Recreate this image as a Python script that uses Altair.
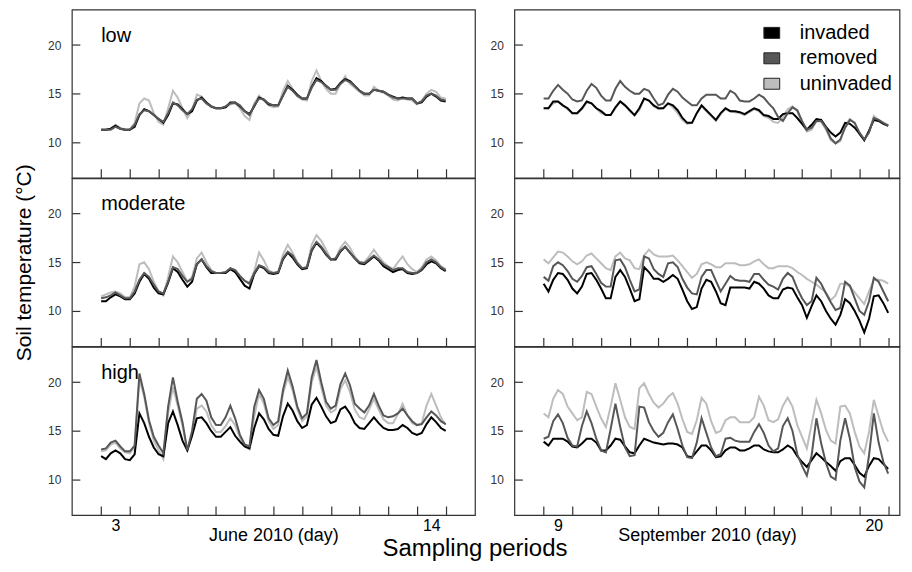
import altair as alt
import pandas as pd

# ---------------- data (4-hourly readings, 73 per series) ----------------
treatments = ["invaded", "removed", "uninvaded"]
colors = ["#000000", "#575757", "#bdbdbd"]
levels = ["low", "moderate", "high"]
periods = ["June", "September"]
period_start = [3, 9]
period_titles = ["June 2010 (day)", "September 2010 (day)"]
period_labels = [[3, 14], [9, 20]]
y_ticks = [10, 15, 20]

jun_low_invaded = [11.3, 11.3, 11.4, 11.7, 11.4, 11.3, 11.3, 11.6, 12.8, 13.4, 13.2, 12.8,
                   12.4, 12.0, 12.8, 14.0, 13.9, 13.4, 12.9, 13.2, 14.3, 14.6, 14.1, 13.7,
                   13.5, 13.5, 13.6, 14.1, 14.1, 13.7, 13.2, 12.9, 13.7, 14.6, 14.4, 13.9,
                   13.8, 13.8, 14.8, 15.8, 15.4, 14.9, 14.5, 14.5, 15.7, 16.6, 16.3, 15.8,
                   15.4, 15.5, 16.1, 16.5, 16.3, 15.8, 15.3, 15.0, 15.0, 15.4, 15.3, 15.2,
                   14.9, 14.7, 14.5, 14.6, 14.5, 14.5, 14.0, 14.1, 14.7, 15.0, 14.7, 14.3, 14.2]
jun_low_removed = [11.3, 11.3, 11.3, 11.6, 11.4, 11.3, 11.3, 11.8, 12.9, 13.3, 13.2, 12.8,
                   12.4, 12.1, 13.0, 14.1, 13.8, 13.3, 12.9, 13.4, 14.4, 14.5, 14.0, 13.7,
                   13.5, 13.5, 13.7, 14.0, 14.1, 13.8, 13.2, 12.8, 13.8, 14.5, 14.4, 14.0,
                   13.8, 13.8, 14.8, 15.7, 15.3, 14.8, 14.5, 14.5, 15.6, 16.4, 16.2, 15.8,
                   15.4, 15.4, 16.0, 16.4, 16.2, 15.8, 15.3, 15.0, 15.0, 15.4, 15.3, 15.2,
                   14.9, 14.6, 14.5, 14.5, 14.5, 14.5, 14.0, 14.2, 14.8, 15.0, 14.8, 14.4, 14.3]
jun_low_uninvaded = [11.3, 11.3, 11.4, 11.8, 11.5, 11.3, 11.3, 12.0, 14.0, 14.5, 14.3, 13.0,
                     12.1, 11.8, 13.5, 15.3, 14.6, 13.5, 12.5, 13.3, 14.9, 14.7, 14.0, 13.6,
                     13.5, 13.5, 13.6, 13.9, 14.0, 13.5, 12.7, 12.3, 14.0, 14.8, 14.3, 13.8,
                     13.6, 13.7, 15.3, 16.3, 15.5, 14.7, 14.4, 14.3, 16.3, 17.4, 16.3, 15.5,
                     15.0, 15.0, 16.0, 16.8, 16.0, 15.6, 15.2, 14.8, 14.8, 15.7, 15.3, 15.1,
                     14.8, 14.4, 14.3, 14.6, 14.4, 14.3, 13.9, 14.3, 15.0, 15.4, 15.2, 14.6, 14.5]

sep_low_invaded = [13.5, 13.5, 14.2, 14.2, 13.8, 13.5, 13.0, 13.0, 13.5, 14.2, 14.0, 13.5,
                   13.2, 12.8, 12.8, 13.6, 14.2, 13.8, 13.3, 12.8, 13.5, 14.5, 14.3, 13.8,
                   13.5, 13.5, 14.0, 13.8, 13.3, 12.5, 12.0, 12.0, 13.0, 13.8, 13.3, 12.8,
                   12.3, 13.0, 13.5, 13.2, 13.2, 13.1, 12.9, 13.2, 13.5, 13.3, 12.8, 12.7,
                   12.4, 12.4, 12.9, 13.0, 13.0, 12.5, 11.9, 11.3, 11.8, 12.4, 12.3, 11.6,
                   11.0, 10.6, 11.0, 12.0, 11.9, 11.5, 10.9, 10.2, 11.2, 12.3, 12.2, 11.9, 11.7]
sep_low_removed = [14.5, 14.5, 15.3, 15.9, 15.4, 15.0, 14.4, 14.2, 14.3, 15.3, 16.0, 15.6,
                   14.8, 14.3, 14.3, 15.5, 16.3, 15.7, 15.3, 15.0, 15.0, 15.5, 15.3, 14.5,
                   13.8, 14.0, 14.9, 15.5, 15.2, 14.6, 14.2, 13.8, 13.8, 14.5, 14.9, 14.9,
                   14.9, 14.5, 14.5, 15.3, 15.0, 14.3, 14.2, 14.2, 14.5, 14.9, 14.6, 14.0,
                   13.5, 12.6, 12.2, 13.0, 13.6, 13.3, 12.2, 11.3, 11.5, 12.2, 12.2, 11.5,
                   10.4, 9.9, 10.3, 11.5, 12.3, 12.0, 11.0, 10.3, 11.0, 12.5, 12.3, 12.0, 11.7]
sep_low_uninvaded = [13.5, 13.5, 14.0, 14.2, 13.8, 13.4, 13.0, 13.0, 13.4, 14.1, 14.0, 13.5,
                     13.0, 12.8, 12.8, 13.5, 14.2, 13.8, 13.2, 12.8, 13.3, 14.5, 14.3, 13.7,
                     13.4, 13.5, 14.0, 13.6, 13.0, 12.3, 11.9, 12.0, 13.0, 13.7, 13.2, 12.7,
                     12.2, 12.9, 13.4, 13.2, 13.1, 13.0, 12.8, 13.1, 13.4, 13.2, 12.7, 12.5,
                     12.1, 12.0, 12.6, 13.4, 13.7, 13.2, 12.0, 11.1, 11.3, 12.2, 12.1, 11.3,
                     10.2, 9.9, 10.1, 11.8, 12.4, 12.0, 10.8, 10.3, 11.1, 12.7, 12.3, 12.0, 11.8]

jun_moderate_invaded = [11.0, 11.0, 11.4, 11.7, 11.5, 11.2, 11.2, 11.8, 13.0, 13.8, 13.3, 12.4,
                        11.8, 11.7, 12.9, 14.4, 14.0, 13.2, 12.5, 13.0, 14.8, 15.3, 14.5, 13.9,
                        13.9, 13.9, 13.9, 14.3, 14.0, 13.3, 12.6, 12.3, 13.8, 14.6, 14.4, 13.9,
                        13.8, 13.9, 15.3, 16.0, 15.5, 14.8, 14.3, 14.4, 16.2, 17.0, 16.5, 15.8,
                        15.3, 15.3, 16.1, 16.6, 16.0, 15.4, 14.9, 14.8, 15.2, 15.6, 15.2, 14.6,
                        14.3, 14.0, 14.2, 14.3, 13.9, 13.8, 13.9, 14.2, 14.8, 15.1, 14.9, 14.4, 14.1]
jun_moderate_removed = [11.3, 11.4, 11.6, 11.9, 11.6, 11.3, 11.3, 12.0, 13.2, 13.9, 13.5, 12.7,
                        12.0, 11.8, 13.0, 14.5, 14.3, 13.6, 13.0, 13.3, 14.8, 15.3, 14.6, 14.1,
                        13.9, 13.9, 14.0, 14.4, 14.2, 13.6, 13.1, 12.8, 13.9, 14.7, 14.5, 14.0,
                        13.9, 14.0, 15.4, 16.1, 15.7, 14.9, 14.4, 14.5, 16.3, 17.1, 16.6, 15.9,
                        15.3, 15.4, 16.2, 16.6, 16.0, 15.4, 15.0, 14.9, 15.3, 15.7, 15.3, 14.8,
                        14.5, 14.2, 14.4, 14.4, 14.0, 13.9, 13.9, 14.3, 15.0, 15.3, 15.0, 14.5, 14.2]
jun_moderate_uninvaded = [11.5, 11.7, 11.9, 12.0, 11.8, 11.4, 11.4, 12.5, 14.8, 15.0, 14.3, 13.0,
                          12.0, 11.6, 13.5, 15.6, 15.0, 14.0, 13.0, 13.5, 15.4, 16.0, 15.0, 14.2,
                          13.9, 13.9, 13.9, 14.3, 14.2, 13.6, 13.1, 12.9, 14.1, 16.0, 15.2, 14.2,
                          13.9, 14.0, 15.8, 16.8, 16.0, 15.0, 14.4, 14.5, 16.8, 17.8, 17.2, 16.3,
                          15.3, 15.4, 16.5, 17.1, 16.5, 15.6, 15.0, 15.0, 15.6, 16.3, 15.6, 15.0,
                          14.6, 14.3, 15.0, 15.6, 14.8, 14.3, 14.0, 14.5, 15.3, 15.6, 15.2, 14.6, 14.3]

sep_moderate_invaded = [12.8, 12.0, 13.2, 13.9, 13.8, 13.2, 12.3, 11.8, 12.5, 13.8, 13.9, 13.2,
                        12.3, 11.3, 11.3, 13.5, 14.2, 13.5, 12.3, 11.0, 11.2, 14.5, 14.0, 13.3,
                        13.3, 13.0, 13.3, 13.7, 13.3, 12.2, 11.0, 10.2, 10.4, 12.3, 13.2, 13.0,
                        12.0, 10.8, 10.6, 12.4, 12.4, 12.4, 12.4, 12.3, 13.0, 12.8, 12.3, 11.6,
                        11.3, 11.3, 12.2, 12.4, 12.3, 11.4, 10.6, 9.3, 10.5, 11.6, 11.0, 10.0,
                        9.2, 8.6, 9.6, 11.2, 10.8, 10.0, 9.0, 7.8, 9.2, 11.5, 11.6, 10.8, 9.8]
sep_moderate_removed = [13.5, 13.1, 14.6, 15.0, 14.7, 14.1, 13.3, 13.0, 13.6, 14.5, 14.6, 13.8,
                        12.9, 12.5, 12.5, 15.2, 15.3, 14.5, 13.2, 12.0, 12.2, 15.6, 15.4, 14.3,
                        13.8, 13.5, 14.9, 15.0, 14.5, 13.3, 12.4, 11.8, 11.7, 13.5, 14.2, 14.2,
                        13.1, 12.0, 12.8, 13.6, 13.2, 13.1, 13.1, 13.0, 13.8, 13.8, 13.2, 12.7,
                        12.5, 12.2, 13.3, 13.9, 13.5, 12.3, 11.3, 10.6, 11.0, 13.4, 12.8, 11.8,
                        10.9, 10.1, 10.3, 13.0, 12.6, 11.3, 10.0, 9.6, 11.0, 13.4, 13.0, 12.0, 11.0]
sep_moderate_uninvaded = [15.3, 14.9, 15.5, 16.1, 16.0, 15.6, 15.1, 14.8, 15.1, 15.7, 15.9, 15.4,
                          14.9, 14.4, 14.2, 15.6, 16.0, 15.4, 15.2, 14.4, 14.3, 15.7, 16.3, 15.8,
                          15.6, 15.6, 15.6, 15.7, 15.2, 14.6, 14.0, 13.4, 13.8, 14.8, 15.0, 14.8,
                          14.5, 14.5, 14.9, 14.9, 14.9, 14.7, 14.7, 14.8, 15.1, 15.3, 14.8, 14.4,
                          14.4, 14.6, 14.6, 14.6, 14.4, 14.0, 13.7, 13.3, 13.0, 12.7, 12.3, 11.9,
                          11.1, 11.6, 12.8, 12.8, 12.5, 11.9, 11.3, 10.7, 12.0, 13.2, 13.2, 13.1, 12.8]

jun_high_invaded = [12.4, 12.1, 12.7, 13.0, 12.7, 12.1, 12.0, 12.6, 16.8, 15.8, 14.4, 13.3,
                    12.6, 12.4, 15.8, 17.0, 15.6, 14.0, 13.0, 14.5, 16.3, 16.4, 15.8, 15.0,
                    14.4, 14.4, 14.9, 15.4, 14.5, 13.9, 13.4, 13.2, 15.3, 16.8, 16.2, 15.2,
                    14.6, 14.5, 16.5, 17.8, 17.1, 16.0, 15.3, 15.6, 17.7, 18.4, 17.5, 16.5,
                    15.8, 16.0, 17.2, 17.5, 16.8, 15.8, 15.3, 15.2, 15.8, 16.4, 15.8, 15.3,
                    15.1, 15.1, 15.2, 15.6, 15.3, 14.8, 14.6, 14.8, 15.7, 16.4, 15.9, 15.3, 15.0]
jun_high_removed = [13.1, 13.2, 13.8, 14.0, 13.4, 12.9, 12.9, 13.5, 20.9, 18.8, 16.1, 14.4,
                    13.5, 12.7, 17.5, 20.5, 18.0, 15.9, 13.0, 15.0, 18.3, 18.8, 18.1, 16.4,
                    15.6, 15.6, 16.4, 17.6, 16.3, 14.6, 13.6, 13.4, 17.5, 19.2, 18.3, 16.3,
                    15.6, 16.0, 19.2, 21.2, 19.6, 17.5, 16.3, 16.8, 20.5, 22.3, 20.0, 18.0,
                    17.3, 17.6, 19.8, 20.9, 19.7, 17.8, 17.3, 16.9, 17.6, 18.8, 17.6, 16.6,
                    16.4, 16.5, 16.8, 17.3, 16.6, 16.0, 15.6, 15.7, 16.4, 17.0, 16.6, 16.0, 15.7]
jun_high_uninvaded = [12.9, 13.0, 13.6, 13.8, 13.2, 12.8, 12.7, 13.3, 20.3, 18.5, 15.8, 14.0,
                      13.0, 12.1, 16.8, 19.5, 17.6, 15.5, 12.9, 14.6, 17.3, 17.6, 17.0, 15.6,
                      14.9, 14.9, 15.5, 16.3, 15.6, 14.3, 13.4, 13.1, 16.5, 18.8, 17.8, 16.0,
                      15.2, 15.6, 18.8, 20.5, 19.2, 17.2, 16.0, 16.5, 20.0, 21.6, 19.5, 17.6,
                      16.9, 17.2, 19.3, 20.2, 19.0, 17.2, 16.4, 16.2, 17.2, 18.3, 17.2, 16.2,
                      15.8, 15.8, 16.7, 17.8, 16.6, 15.8, 15.6, 15.8, 17.6, 18.8, 17.6, 16.4, 15.6]

sep_high_invaded = [13.9, 13.5, 14.2, 14.2, 14.2, 13.9, 13.4, 13.3, 13.7, 14.2, 14.2, 13.8,
                    13.0, 13.0, 13.5, 14.2, 14.1, 13.4, 12.8, 12.7, 13.5, 14.2, 14.0, 13.8,
                    13.7, 13.6, 13.7, 13.7, 13.6, 13.3, 12.4, 12.3, 12.9, 13.5, 13.5, 13.0,
                    12.3, 12.4, 13.0, 13.3, 13.3, 13.0, 13.0, 13.2, 13.5, 13.5, 13.1, 12.9,
                    12.8, 12.8, 13.1, 13.5, 13.2, 12.4, 11.8, 11.3, 12.0, 12.7, 12.3, 11.8,
                    11.4, 10.9, 11.9, 12.2, 12.2, 11.5, 10.7, 10.3, 11.4, 12.2, 12.1, 11.6, 11.1]
sep_high_removed = [14.2, 14.4, 16.0, 16.7, 15.8, 14.3, 13.5, 13.4, 15.5, 17.0, 15.8, 14.2,
                    13.0, 12.8, 15.2, 17.8, 15.4, 13.3, 12.4, 12.5, 17.5, 17.4, 15.9, 15.0,
                    14.4, 14.8, 15.9, 16.7, 15.2, 13.5, 12.3, 12.2, 13.8, 16.3, 14.8, 13.3,
                    12.4, 12.6, 14.2, 14.3, 14.0, 13.9, 13.9, 13.9, 14.9, 15.7, 14.8, 13.5,
                    12.9, 13.2, 15.5, 16.3, 15.0, 12.6, 11.4, 10.4, 12.5, 16.3, 13.7, 11.7,
                    10.3, 10.0, 14.0, 16.3, 14.2, 11.3, 9.8, 9.2, 12.5, 16.8, 13.8, 11.8, 10.6]
sep_high_uninvaded = [16.8, 16.4, 18.3, 19.2, 18.8, 17.5, 16.8, 16.1, 16.4, 19.0, 18.8, 17.5,
                      16.3, 15.4, 17.5, 19.9, 18.2, 16.4, 15.4, 15.2, 19.4, 19.9, 18.8, 17.9,
                      17.4, 17.8, 18.5, 18.9, 17.8, 16.2, 14.9, 14.7, 16.1, 18.4, 17.8, 16.0,
                      14.8, 15.0, 16.1, 16.4, 16.4, 15.9, 15.9, 15.9, 16.4, 18.5, 17.6, 16.1,
                      15.9, 16.2, 17.6, 18.4, 17.5, 15.6, 14.4, 13.2, 15.7, 18.2, 16.8, 15.1,
                      14.0, 13.7, 17.5, 17.6, 16.8, 14.9, 13.4, 12.7, 14.9, 18.2, 16.5, 14.9, 13.9]

series = {
    ("June", "low"): [jun_low_invaded, jun_low_removed, jun_low_uninvaded],
    ("September", "low"): [sep_low_invaded, sep_low_removed, sep_low_uninvaded],
    ("June", "moderate"): [jun_moderate_invaded, jun_moderate_removed, jun_moderate_uninvaded],
    ("September", "moderate"): [sep_moderate_invaded, sep_moderate_removed, sep_moderate_uninvaded],
    ("June", "high"): [jun_high_invaded, jun_high_removed, jun_high_uninvaded],
    ("September", "high"): [sep_high_invaded, sep_high_removed, sep_high_uninvaded],
}

rows = []
for (period, level), lists in series.items():
    start = period_start[periods.index(period)]
    for trt, vals in zip(treatments, lists):
        for j, v in enumerate(vals):
            rows.append({"period": period, "level": level, "treatment": trt,
                         "day": start + j / 6.0, "temp": v})
df = pd.DataFrame(rows)

# ---------------- chart ----------------
FONT = "Liberation Sans"
H = 168.5
PX_PER_DAY = 404 / 14.04
widths = [404, 386]  # the right column runs past the window edge in the original
RECT = "M-0.72,-0.5L0.72,-0.5L0.72,0.5L-0.72,0.5Z"
col_scale = alt.Scale(domain=treatments, range=colors)


def panel(pi, li):
    period, level = periods[pi], levels[li]
    start = period_start[pi]
    bottom = li == 2
    lab_a, lab_b = period_labels[pi]
    W = widths[pi]
    sub = df[(df.period == period) & (df.level == level)]
    x = alt.X("day:Q",
              scale=alt.Scale(domain=[start - 1.02, start - 1.02 + W / PX_PER_DAY],
                              nice=False, zero=False),
              axis=alt.Axis(values=list(range(start, start + 13)), tickSize=9, offset=-9,
                            domain=False, grid=False, labels=bottom, labelFlush=False,
                            labelOverlap=False, labelOffset=PX_PER_DAY / 2, labelPadding=3,
                            labelFontSize=16, labelColor="black",
                            labelExpr=f"datum.value == {lab_a} ? '{lab_a}' : datum.value == {lab_b} ? '{lab_b}' : ''",
                            title=period_titles[pi] if bottom else None,
                            titleFontSize=18, titleFontWeight="normal", titleColor="black",
                            titleBaseline="alphabetic", titleY=35))
    ytitle = "Soil temperature (°C)" if (pi == 0 and li == 1) else None
    y = alt.Y("temp:Q",
              scale=alt.Scale(domain=[6.36, 23.64], nice=False, zero=False),
              axis=alt.Axis(values=y_ticks, tickSize=8, offset=-8, domain=False, grid=False,
                            labelPadding=11, labelFontSize=12, labelColor="#333",
                            title=ytitle, titleFontSize=21, titleFontWeight="normal",
                            titleColor="black", titlePadding=13))
    layers = []
    for trt in ["uninvaded", "invaded", "removed"]:
        layers.append(
            alt.Chart(sub[sub.treatment == trt]).mark_line(strokeWidth=2).encode(
                x=x, y=y,
                stroke=alt.Stroke("treatment:N", scale=col_scale, legend=None)))
    if pi == 0:
        layers.append(
            alt.Chart(pd.DataFrame({"level": [level]})).mark_text(
                align="left", baseline="alphabetic", fontSize=20, font=FONT, color="black"
            ).encode(text="level:N", x=alt.value(PX_PER_DAY * 1.02), y=alt.value(32)))
    chart = alt.layer(*layers)
    if pi == 1 and li == 0:
        leg = pd.DataFrame({"treatment": treatments})
        ly = alt.Y("treatment:N", scale=alt.Scale(type="point", domain=treatments,
                                                  range=[23.3, 74.3], padding=0), axis=None)
        boxes = alt.Chart(leg).mark_point(
            filled=True, shape=RECT, size=484, stroke="#222", strokeWidth=1, opacity=1
        ).encode(x=alt.value(258), y=ly,
                 fill=alt.Fill("treatment:N", scale=col_scale, legend=None))
        texts = alt.Chart(leg).mark_text(
            align="left", baseline="middle", fontSize=20, font=FONT, color="black"
        ).encode(x=alt.value(286), y=ly, text="treatment:N")
        legend = alt.layer(boxes, texts)
        chart = alt.layer(chart, legend).resolve_scale(y="independent")
    return chart.properties(width=W, height=H)


cells = []
for li in range(3):
    for pi in range(2):
        cells.append(panel(pi, li))

chart = alt.concat(*cells, columns=2, spacing={"row": 0, "column": 39.5}, bounds="flush").resolve_scale(
    x="independent", y="independent"
).properties(
    title=alt.TitleParams("Sampling periods", orient="bottom", fontSize=24, fontWeight="normal",
                          font=FONT, color="black", anchor="middle", frame="group", dx=404,
                          baseline="alphabetic", offset=11),
    padding={"left": 5, "top": 0, "right": 0, "bottom": 0},
).configure(font=FONT).configure_view(stroke="#333", strokeWidth=1.2).configure_axis(
    labelFont=FONT, titleFont=FONT, tickColor="#333", tickWidth=1.2
)

chart.save("out.html", embed_options={"renderer": "svg", "actions": False})
